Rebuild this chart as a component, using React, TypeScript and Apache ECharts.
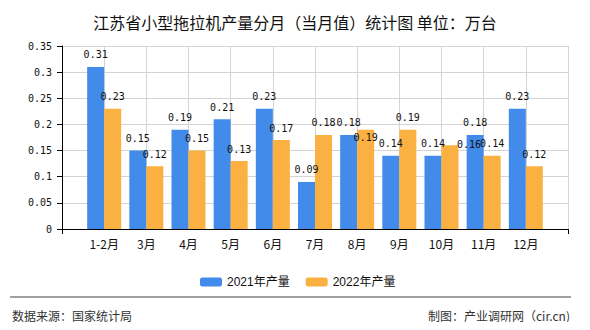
import React, { useEffect, useRef } from "react";
import * as echarts from "echarts";

const categories = ["1-2月", "3月", "4月", "5月", "6月", "7月", "8月", "9月", "10月", "11月", "12月"];
const series2021 = [0.31, 0.15, 0.19, 0.21, 0.23, 0.09, 0.18, 0.14, 0.14, 0.18, 0.23];
const series2022 = [0.23, 0.12, 0.15, 0.13, 0.17, 0.18, 0.19, 0.19, 0.16, 0.14, 0.12];
const legendNames = ["2021年产量", "2022年产量"];
const titleText = "江苏省小型拖拉机产量分月（当月值）统计图 单位：万台";
const sourceText = "数据来源：国家统计局";
const creditText = "制图：产业调研网（cir.cn)";
// labels that the reference shifts (category index -> [dx, dy] px)
const shifted2022: Record<number, number[]> = { 6: [0, 20], 8: [19, 11] };

const BLUE = "#428BEB";
const ORANGE = "#FBB142";
const MONO = "'DejaVu Sans Mono', 'Liberation Mono', monospace";
const CJK = "'Noto Sans CJK SC', 'Noto Sans', sans-serif";

export default function App() {
  const ref = useRef<HTMLDivElement>(null);
  useEffect(() => {
    if (!ref.current) return;
    const chart = echarts.init(ref.current, undefined, { renderer: "svg" });
    const xData = ["", ...categories, ""];
    const pad = (arr: any[]) => [null, ...arr, null];
    const labelCfg = {
      show: true,
      position: "top" as const,
      distance: 7,
      fontFamily: MONO,
      fontSize: 10,
      color: "#111",
    };
    const data2022 = series2022.map((v, i) =>
      shifted2022[i] ? { value: v, label: { offset: shifted2022[i] } } : v
    );
    chart.setOption({
      animation: false,
      backgroundColor: "#fff",
      title: {
        text: titleText,
        left: "center",
        top: 9,
        textStyle: { fontFamily: CJK, fontSize: 16, fontWeight: "normal", color: "#111" },
      },
      legend: {
        data: legendNames,
        left: 195,
        top: 271,
        itemWidth: 22,
        itemHeight: 9,
        itemGap: 16,
        textStyle: { fontFamily: "'Liberation Sans', " + CJK, fontSize: 12, color: "#111" },
      },
      grid: { left: 62, right: 22, top: 46, bottom: 101 },
      xAxis: {
        type: "category",
        data: xData,
        boundaryGap: false,
        axisLine: { lineStyle: { color: "#000", width: 1 } },
        axisTick: {
          show: true,
          length: 5,
          interval: (i: number) => i === 0 || i === xData.length - 1,
          lineStyle: { color: "#000" },
        },
        axisLabel: { fontFamily: CJK, fontSize: 12, color: "#111", margin: 8, interval: 0 },
        splitLine: { show: true, lineStyle: { color: "#d4d4d4", width: 1 } },
      },
      yAxis: {
        type: "value",
        min: 0,
        max: 0.35,
        interval: 0.05,
        axisLine: { show: true, lineStyle: { color: "#000", width: 1 } },
        axisTick: { show: true, length: 5, lineStyle: { color: "#000" } },
        axisLabel: { fontFamily: MONO, fontSize: 10, color: "#111", margin: 10 },
        splitLine: { show: true, lineStyle: { color: "#d4d4d4", width: 1 } },
      },
      series: [
        {
          name: legendNames[0],
          type: "bar",
          data: pad(series2021),
          barWidth: 17,
          barGap: "0%",
          itemStyle: { color: BLUE },
          label: labelCfg,
        },
        {
          name: legendNames[1],
          type: "bar",
          data: pad(data2022),
          barWidth: 17,
          barGap: "0%",
          itemStyle: { color: ORANGE },
          label: labelCfg,
        },
      ],
      graphic: [
        {
          type: "line",
          shape: { x1: 10, y1: 297, x2: 571, y2: 297 },
          style: { stroke: "#808080", lineWidth: 1.5 },
        },
        {
          type: "text",
          left: 12,
          top: 309,
          style: { text: sourceText, font: "12px " + CJK, fill: "#333" },
        },
        {
          type: "text",
          right: 20,
          top: 309,
          style: { text: creditText, font: "12px " + CJK, fill: "#333" },
        },
      ],
    });
    return () => chart.dispose();
  }, []);
  return <div ref={ref} style={{ width: 590, height: 330, margin: -8 }} />;
}
